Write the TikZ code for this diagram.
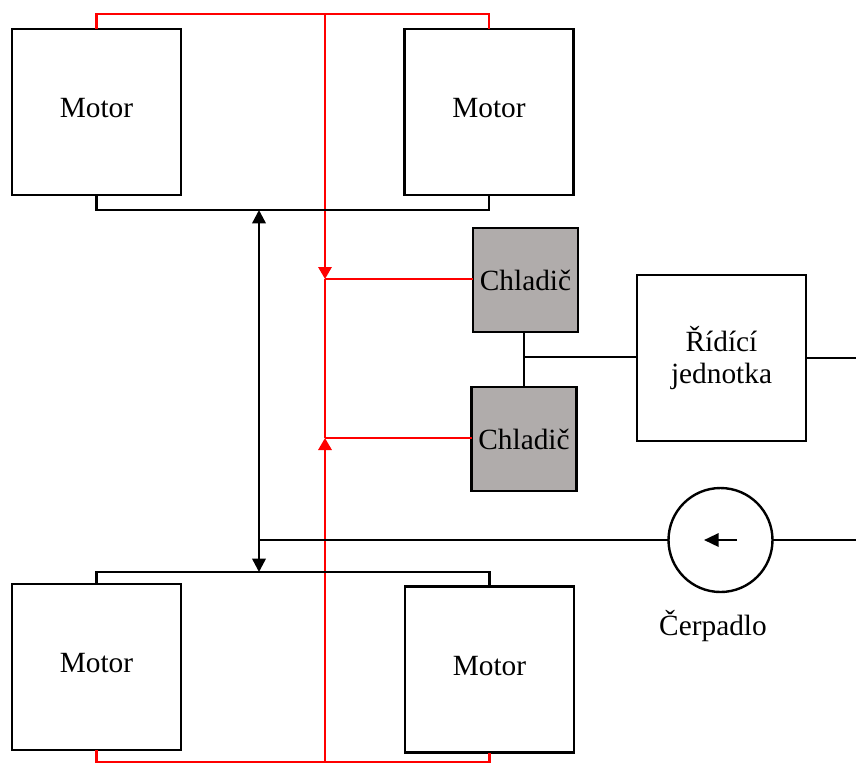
\documentclass[tikz,border=0pt]{standalone}
\usepackage{fontspec}
\setmainfont{Liberation Serif}
\usetikzlibrary{arrows.meta}
\definecolor{coolgray}{RGB}{176,172,171}
\begin{document}
\begin{tikzpicture}[x=0.75pt,y=-0.75pt,
  font=\fontsize{22}{27}\selectfont,
  every node/.style={inner sep=0pt, outer sep=0pt},
  box/.style={draw, line width=1.8pt, minimum width=169*0.75pt, minimum height=166*0.75pt, align=center},
  motor/.style={box, text depth=6pt},
  cooler/.style={draw, line width=1.8pt, fill=coolgray, minimum width=105*0.75pt, minimum height=104*0.75pt},
  pipe/.style={line width=1.8pt},
  hotpipe/.style={draw=red, line width=1.6pt},
  hottip/.style={-{Triangle[length=9pt,width=10pt]}}]
\useasboundingbox (0,0) rectangle (856,765);

% motors
\node[motor] (m1) at (96.5,112) {Motor};
\node[motor] (m2) at (489,112) {Motor};
\node[motor] (m3) at (96.5,667) {Motor};
\node[motor] (m4) at (489.5,669.5) {Motor};

% coolers and control unit
\node[cooler] (c1) at (525.5,280) {Chladič};
\node[cooler] (c2) at (524,439) {Chladič};
\node[box] (ecu) at (721.5,358) {Řídící\\[-3pt]jednotka};

% pump
\node[draw, circle, line width=1.8pt, minimum size=104*0.75pt] (pump) at (720.5,540) {};
\node (plabel) at (713,626) {Čerpadlo};
\coordinate (pa) at (737,540);
\coordinate (pb) at (704,540);
\draw[pipe, -{Triangle[length=11pt,width=10pt]}] (pa) -- (pb);

% junction points
\coordinate (rt) at (325,14);
\coordinate (rb) at (325,762);
\coordinate (jt) at (325,279);
\coordinate (jb) at (325,438);
\coordinate (bt) at (259,210);
\coordinate (bb) at (259,572);
\coordinate (bp) at (259,540);
\coordinate (cj) at (524,357);
\coordinate (eout) at (856,358);
\coordinate (pout) at (856,540);

% red circuit
\draw[hotpipe] (m1.north) |- (rt) -| (m2.north);
\draw[hotpipe] (m3.south) |- (rb) -| (m4.south);
\draw[hotpipe, hottip] (rt) -- (jt);
\draw[hotpipe, hottip] (rb) -- (jb);
\draw[hotpipe] (jt) -- (jb);
\draw[hotpipe] (jt) -- (jt -| c1.west);
\draw[hotpipe] (jb) -- (jb -| c2.west);

% black circuit
\draw[pipe] (m1.south) |- (bt) -| (m2.south);
\draw[pipe] (m3.north) |- (bb) -| (m4.north);
\draw[pipe, {Triangle[length=10pt,width=10pt]}-{Triangle[length=10pt,width=10pt]}] (bt) -- (bb);
\draw[pipe] (bp) -- (pump.west);
\draw[pipe] (pump.east) -- (pout);
\draw[pipe] (c2.north) -- (c2.north |- c1.south);
\draw[pipe] (cj) -- (cj -| ecu.west);
\draw[pipe] (ecu.east |- eout) -- (eout);
\end{tikzpicture}
\end{document}
